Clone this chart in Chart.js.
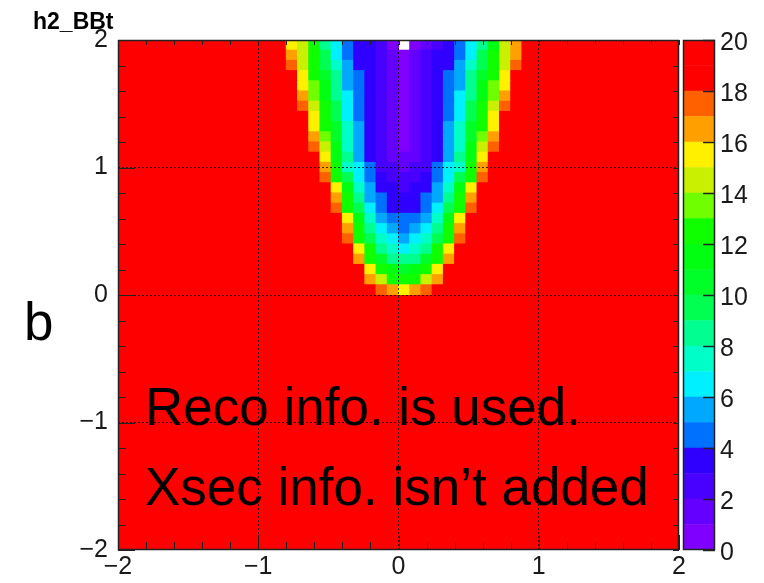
<!DOCTYPE html>
<html>
<head>
<meta charset="utf-8">
<script src="https://cdn.jsdelivr.net/npm/chart.js@4/dist/chart.umd.min.js"></script>
<style>
  body { margin: 0; background: #fff; }
  #quadro { position: relative; width: 764px; height: 583px; font-family: "Liberation Sans", Arial, sans-serif; }
  #quadro canvas { position: absolute; left: 0; top: 0; }
  .txt { position: absolute; color: #000; white-space: nowrap; line-height: 1; }
</style>
</head>
<body>
<div id="quadro">
  <canvas id="mapa" width="764" height="583"></canvas>
  <canvas id="paleta" width="764" height="583"></canvas>
  <div class="txt" style="left:33px;top:10px;font-size:23px;font-weight:bold;">h2_BBt</div>
  <div class="txt" style="left:24px;top:295px;font-size:53px;">b</div>
  <div class="txt" style="left:145px;top:380px;font-size:53px;">Reco info. is used.</div>
  <div class="txt" style="left:145px;top:460px;font-size:53px;">Xsec info. isn’t added</div>
</div>
<script>
// binagem do histograma 2D (50 x 50, de -2 a 2)
const binsX = 50, binsY = 50;
const xMin = -2, xMax = 2, yMin = -2, yMax = 2;

const cores = [
    "#8000ff", "#6400ff", "#4800ff", "#3000ff", "#0070ff",
    "#00a8ff", "#00f0ff", "#00ffc8", "#00ff90", "#00ff50",
    "#00ff28", "#00ff10", "#10ff00", "#70ff00", "#c8f000",
    "#fff000", "#ffa000", "#ff6000", "#ff0000", "#ff0000"
];
const ticksPaleta = [0, 2, 4, 6, 8, 10, 12, 14, 16, 18, 20];

// conteudo de cada bin, de cima (y=2) para baixo (y=-2)
// 0-9, A-J = nivel 0..19 ; "." = bin vazio
const niveis = "0123456789ABCDEFGHIJ";
const linhas = [
    "JJJJJJJJJJJJJJJFEC8643320.0123468BEGJJJJJJJJJJJJJJ",
    "JJJJJJJJJJJJJJJGEC964332101233469CEGJJJJJJJJJJJJJJ",
    "JJJJJJJJJJJJJJJHEC975332101233579CEHJJJJJJJJJJJJJJ",
    "JJJJJJJJJJJJJJJJFCA8543210123458ACFJJJJJJJJJJJJJJJ",
    "JJJJJJJJJJJJJJJJFDB8543210123458BDFJJJJJJJJJJJJJJJ",
    "JJJJJJJJJJJJJJJJGDB8643210123468BDGJJJJJJJJJJJJJJJ",
    "JJJJJJJJJJJJJJJJHEC9643210123469CEHJJJJJJJJJJJJJJJ",
    "JJJJJJJJJJJJJJJJJFC9643210123469CFJJJJJJJJJJJJJJJJ",
    "JJJJJJJJJJJJJJJJJFCA75321012357ACFJJJJJJJJJJJJJJJJ",
    "JJJJJJJJJJJJJJJJJGDA75321012357ADGJJJJJJJJJJJJJJJJ",
    "JJJJJJJJJJJJJJJJJHEB75321012357BEHJJJJJJJJJJJJJJJJ",
    "JJJJJJJJJJJJJJJJJJFB85321112358BFJJJJJJJJJJJJJJJJJ",
    "JJJJJJJJJJJJJJJJJJGC76422122467CGJJJJJJJJJJJJJJJJJ",
    "JJJJJJJJJJJJJJJJJJHC96432223469CHJJJJJJJJJJJJJJJJJ",
    "JJJJJJJJJJJJJJJJJJJFB753323357BFJJJJJJJJJJJJJJJJJJ",
    "JJJJJJJJJJJJJJJJJJJGC854333458CGJJJJJJJJJJJJJJJJJJ",
    "JJJJJJJJJJJJJJJJJJJHC964333469CHJJJJJJJJJJJJJJJJJJ",
    "JJJJJJJJJJJJJJJJJJJJFB7544457BFJJJJJJJJJJJJJJJJJJJ",
    "JJJJJJJJJJJJJJJJJJJJGC8654568CGJJJJJJJJJJJJJJJJJJJ",
    "JJJJJJJJJJJJJJJJJJJJHC9765679CHJJJJJJJJJJJJJJJJJJJ",
    "JJJJJJJJJJJJJJJJJJJJJFC87678CFJJJJJJJJJJJJJJJJJJJJ",
    "JJJJJJJJJJJJJJJJJJJJJGCA888ACGJJJJJJJJJJJJJJJJJJJJ",
    "JJJJJJJJJJJJJJJJJJJJJJFCBABCFJJJJJJJJJJJJJJJJJJJJJ",
    "JJJJJJJJJJJJJJJJJJJJJJGECCCEGJJJJJJJJJJJJJJJJJJJJJ",
    "JJJJJJJJJJJJJJJJJJJJJJJHGFGHJJJJJJJJJJJJJJJJJJJJJJ",
    "JJJJJJJJJJJJJJJJJJJJJJJJJJJJJJJJJJJJJJJJJJJJJJJJJJ",
    "JJJJJJJJJJJJJJJJJJJJJJJJJJJJJJJJJJJJJJJJJJJJJJJJJJ",
    "JJJJJJJJJJJJJJJJJJJJJJJJJJJJJJJJJJJJJJJJJJJJJJJJJJ",
    "JJJJJJJJJJJJJJJJJJJJJJJJJJJJJJJJJJJJJJJJJJJJJJJJJJ",
    "JJJJJJJJJJJJJJJJJJJJJJJJJJJJJJJJJJJJJJJJJJJJJJJJJJ",
    "JJJJJJJJJJJJJJJJJJJJJJJJJJJJJJJJJJJJJJJJJJJJJJJJJJ",
    "JJJJJJJJJJJJJJJJJJJJJJJJJJJJJJJJJJJJJJJJJJJJJJJJJJ",
    "JJJJJJJJJJJJJJJJJJJJJJJJJJJJJJJJJJJJJJJJJJJJJJJJJJ",
    "JJJJJJJJJJJJJJJJJJJJJJJJJJJJJJJJJJJJJJJJJJJJJJJJJJ",
    "JJJJJJJJJJJJJJJJJJJJJJJJJJJJJJJJJJJJJJJJJJJJJJJJJJ",
    "JJJJJJJJJJJJJJJJJJJJJJJJJJJJJJJJJJJJJJJJJJJJJJJJJJ",
    "JJJJJJJJJJJJJJJJJJJJJJJJJJJJJJJJJJJJJJJJJJJJJJJJJJ",
    "JJJJJJJJJJJJJJJJJJJJJJJJJJJJJJJJJJJJJJJJJJJJJJJJJJ",
    "JJJJJJJJJJJJJJJJJJJJJJJJJJJJJJJJJJJJJJJJJJJJJJJJJJ",
    "JJJJJJJJJJJJJJJJJJJJJJJJJJJJJJJJJJJJJJJJJJJJJJJJJJ",
    "JJJJJJJJJJJJJJJJJJJJJJJJJJJJJJJJJJJJJJJJJJJJJJJJJJ",
    "JJJJJJJJJJJJJJJJJJJJJJJJJJJJJJJJJJJJJJJJJJJJJJJJJJ",
    "JJJJJJJJJJJJJJJJJJJJJJJJJJJJJJJJJJJJJJJJJJJJJJJJJJ",
    "JJJJJJJJJJJJJJJJJJJJJJJJJJJJJJJJJJJJJJJJJJJJJJJJJJ",
    "JJJJJJJJJJJJJJJJJJJJJJJJJJJJJJJJJJJJJJJJJJJJJJJJJJ",
    "JJJJJJJJJJJJJJJJJJJJJJJJJJJJJJJJJJJJJJJJJJJJJJJJJJ",
    "JJJJJJJJJJJJJJJJJJJJJJJJJJJJJJJJJJJJJJJJJJJJJJJJJJ",
    "JJJJJJJJJJJJJJJJJJJJJJJJJJJJJJJJJJJJJJJJJJJJJJJJJJ",
    "JJJJJJJJJJJJJJJJJJJJJJJJJJJJJJJJJJJJJJJJJJJJJJJJJJ",
    "JJJJJJJJJJJJJJJJJJJJJJJJJJJJJJJJJJJJJJJJJJJJJJJJJJ"
];

linhas.forEach((l, k) => {
    if (l.length !== binsX) throw new Error("linha " + k + " com " + l.length + " bins");
});

const fonte = { family: "Liberation Sans", size: 25 };
const corTexto = "#1a1a1a";

function inteiro(v) {
    return Math.abs(v - Math.round(v)) < 1e-6;
}
function rotulo(v) {
    if (!inteiro(v)) return "";
    const r = Math.round(v);
    return r < 0 ? "\u2212" + (-r) : String(r);
}
// grade pontilhada so nos inteiros internos (-1, 0, 1)
function corGrade(c) {
    const v = c.tick ? c.tick.value : NaN;
    return (inteiro(v) && Math.abs(v) < 1.5) ? "rgba(0,0,0,0.75)" : "rgba(0,0,0,0)";
}

// monta as celulas (barras flutuantes) a partir das linhas
const larguraX = (xMax - xMin) / binsX;
const larguraY = (yMax - yMin) / binsY;
const celulas = [];
linhas.forEach((linha, r) => {
    const j = binsY - 1 - r;
    const y0 = yMin + j * larguraY;
    for (let i = 0; i < binsX; i++) {
        const ch = linha[i];
        if (ch === ".") continue;
        celulas.push({ x: xMin + (i + 0.5) * larguraX, y: [y0, y0 + larguraY], v: niveis.indexOf(ch) + 0.5 });
    }
});

// moldura e marcas para dentro, estilo ROOT
const marcasMapa = {
    id: "marcasMapa",
    afterDraw(chart) {
        const { ctx, chartArea: a, scales } = chart;
        ctx.save();
        ctx.strokeStyle = "#222";
        ctx.lineWidth = 1;
        const linha = (x1, y1, x2, y2) => { ctx.beginPath(); ctx.moveTo(x1, y1); ctx.lineTo(x2, y2); ctx.stroke(); };
        scales.x.ticks.forEach(t => {
            const px = Math.round(scales.x.getPixelForValue(t.value)) + 0.5;
            linha(px, a.bottom, px, a.bottom - (inteiro(t.value) ? 15 : 8));
            linha(px, a.top, px, a.top + 5);
        });
        scales.y.ticks.forEach(t => {
            const py = Math.round(scales.y.getPixelForValue(t.value)) + 0.5;
            linha(a.left, py, a.left + (inteiro(t.value) ? 17 : 8), py);
            linha(a.right, py, a.right - 6, py);
        });
        ctx.lineWidth = 1.5;
        ctx.strokeRect(a.left + 0.5, a.top + 0.5, a.right - a.left - 1, a.bottom - a.top - 1);
        ctx.restore();
    }
};

new Chart(document.getElementById("mapa"), {
    type: "bar",
    data: {
        datasets: [{
            data: celulas,
            backgroundColor: c => c.raw ? cores[Math.floor(c.raw.v)] : "transparent",
            borderWidth: 0,
            barPercentage: 1,
            categoryPercentage: 1,
            inflateAmount: 0.5
        }]
    },
    options: {
        responsive: false,
        animation: false,
        layout: { padding: { top: 40, right: 85, bottom: 0, left: 0 } },
        plugins: { legend: { display: false }, tooltip: { enabled: false } },
        scales: {
            x: {
                type: "linear",
                min: xMin,
                max: xMax,
                offset: false,
                afterFit: s => { s.height = 33; },
                ticks: { stepSize: 0.2, autoSkip: false, maxRotation: 0, padding: 2, font: fonte, color: corTexto, callback: rotulo },
                grid: { z: 1, offset: false, drawTicks: false, lineWidth: 1, color: corGrade },
                border: { display: false, dash: [2, 2] }
            },
            y: {
                type: "linear",
                min: yMin,
                max: yMax,
                afterFit: s => { s.width = 118; },
                ticks: { stepSize: 0.2, autoSkip: false, padding: 10, font: fonte, color: corTexto, callback: rotulo },
                grid: { z: 1, drawTicks: false, lineWidth: 1, color: corGrade },
                border: { display: false, dash: [2, 2] }
            }
        }
    },
    plugins: [marcasMapa]
});

// barra de cores (paleta)
const marcasPaleta = {
    id: "marcasPaleta",
    afterDraw(chart) {
        const { ctx, chartArea: a, scales } = chart;
        ctx.save();
        ctx.strokeStyle = "#222";
        ctx.lineWidth = 1.5;
        scales.y.ticks.forEach(t => {
            const py = Math.round(scales.y.getPixelForValue(t.value)) + 0.5;
            ctx.beginPath(); ctx.moveTo(a.right, py); ctx.lineTo(a.right - 12, py); ctx.stroke();
        });
        ctx.strokeRect(a.left + 0.5, a.top + 0.5, a.right - a.left - 1, a.bottom - a.top - 1);
        ctx.restore();
    }
};

new Chart(document.getElementById("paleta"), {
    type: "bar",
    data: {
        labels: [""],
        datasets: cores.map(c => ({ data: [1], backgroundColor: c, borderWidth: 0, barPercentage: 1, categoryPercentage: 1 }))
    },
    options: {
        responsive: false,
        animation: false,
        layout: { padding: { top: 40, right: 0, bottom: 33, left: 683 } },
        plugins: { legend: { display: false }, tooltip: { enabled: false } },
        scales: {
            x: { stacked: true, display: false },
            y: {
                stacked: true,
                position: "right",
                min: ticksPaleta[0],
                max: ticksPaleta[ticksPaleta.length - 1],
                afterFit: s => { s.width = 49; },
                afterBuildTicks: s => { s.ticks = ticksPaleta.map(v => ({ value: v })); },
                ticks: { padding: 5, labelOffset: 3, font: fonte, color: corTexto },
                grid: { display: false, drawTicks: false },
                border: { display: false }
            }
        }
    },
    plugins: [marcasPaleta]
});
</script>
</body>
</html>
